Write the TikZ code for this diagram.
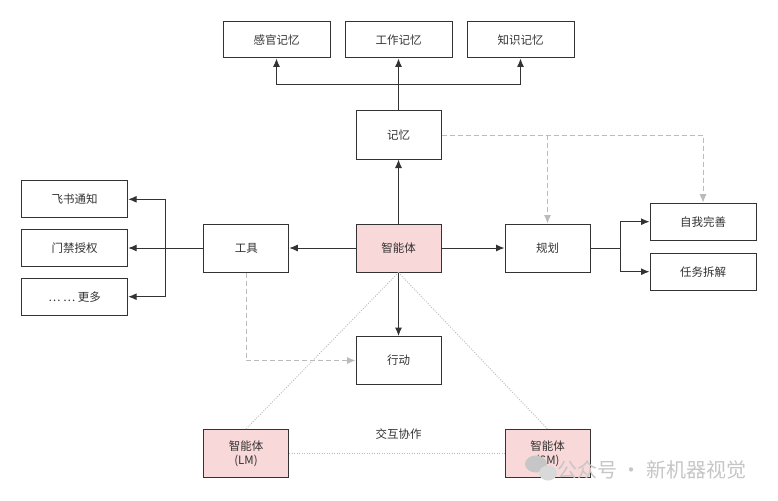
\documentclass[tikz,border=0pt]{standalone}
\usepackage{fontspec}
\setmainfont{Noto Sans CJK SC}
\usetikzlibrary{arrows.meta}
\definecolor{edge}{HTML}{333333}
\definecolor{pinkf}{HTML}{F8D8D8}
\definecolor{dash}{HTML}{BBBBBB}
\begin{document}
\begin{tikzpicture}[x=1pt,y=-1pt,
  base/.style={draw=edge, line width=1pt, inner sep=0pt, fill=white, text=black!80,
    font=\fontsize{11.5}{14}\selectfont, align=center},
  bigbox/.style={base, minimum width=85pt, minimum height=48pt},
  membox/.style={base, minimum width=107pt, minimum height=36pt},
  sidebox/.style={base, minimum width=106pt, minimum height=37pt},
  pinkbox/.style={bigbox, fill=pinkf},
  arr/.style={draw=edge, line width=1pt, -{Latex[length=8.5pt,width=7pt]}},
  darr/.style={draw=dash, line width=1pt, dash pattern=on 5pt off 3pt, -{Latex[length=8.5pt,width=7pt]}},
  dotl/.style={draw=dash, line width=0.9pt, dash pattern=on 1pt off 1.5pt}
]
\useasboundingbox (0,0) rectangle (778,500);
\fill[white] (0,0) rectangle (778,500);

% top memory boxes
\node[membox] (sense) at (276.5,40) {感官记忆};
\node[membox] (work)  at (398.5,40) {工作记忆};
\node[membox] (know)  at (520.5,40) {知识记忆};
\node[bigbox] (mem)   at (398.5,135) {记忆};

% center row
\node[pinkbox] (ag)   at (398.5,248) {智能体};
\node[bigbox]  (tool) at (246.3,248) {工具};
\node[bigbox]  (plan) at (547.5,248) {规划};
\node[bigbox]  (act)  at (398.5,360.5) {行动};

% left tools
\node[sidebox] (fs)   at (74.7,199.3) {飞书通知};
\node[sidebox] (door) at (74.7,248) {门禁授权};
\node[sidebox] (more) at (74.7,296.7) {… … 更多};

% right plan
\node[sidebox] (self) at (703,221.7) {自我完善};
\node[sidebox] (task) at (703,271.7) {任务拆解};

% bottom agents
\node[pinkbox] (lm) at (246,453.5) {智能体\\(LM)};
\node[pinkbox] (sm) at (547.5,453.5) {智能体\\(SM)};
\node[font=\fontsize{11.5}{14}\selectfont, text=black!80] (coop) at (398.5,434) {交互协作};

% dotted interaction lines
\draw[dotl] (ag.south) -- (lm.north);
\draw[dotl] (ag.south) -- (sm.north);
\draw[dotl] (lm.east) -- (sm.west);

% memory tree
\coordinate (bus) at (398.5,85);
\draw[arr] (ag) -- (mem);
\draw[arr] (mem) -- (work);
\draw[arr] (bus) -| (sense);
\draw[arr] (bus) -| (know);

% tools
\draw[arr] (ag) -- (tool);
\draw[arr] (tool) -- (door);
\coordinate (tb) at (165,248);
\draw[arr] (tb) |- (fs);
\draw[arr] (tb) |- (more);

% plan
\draw[arr] (ag) -- (plan);
\coordinate (pb) at (620,248);
\draw[draw=edge, line width=1pt] (plan) -- (pb);
\draw[arr] (pb) |- (self);
\draw[arr] (pb) |- (task);

% action
\draw[arr] (ag) -- (act);

% dashed
\draw[darr] (mem.east) -| (self.north);
\coordinate (mb) at (547.5,135);
\draw[darr] (mb) -- (plan.north);
\draw[darr] (tool.south) |- (act.west);

% watermark
\fill[gray!45] (536,464) ellipse (11pt and 8.5pt);
\fill[gray!30] (548,473) ellipse (9pt and 7.5pt);
\node[anchor=west, text=gray!45, font=\fontsize{20}{22}\selectfont, inner sep=0pt] (wm) at (557,470) {公众号 · 新机器视觉};
\end{tikzpicture}
\end{document}
